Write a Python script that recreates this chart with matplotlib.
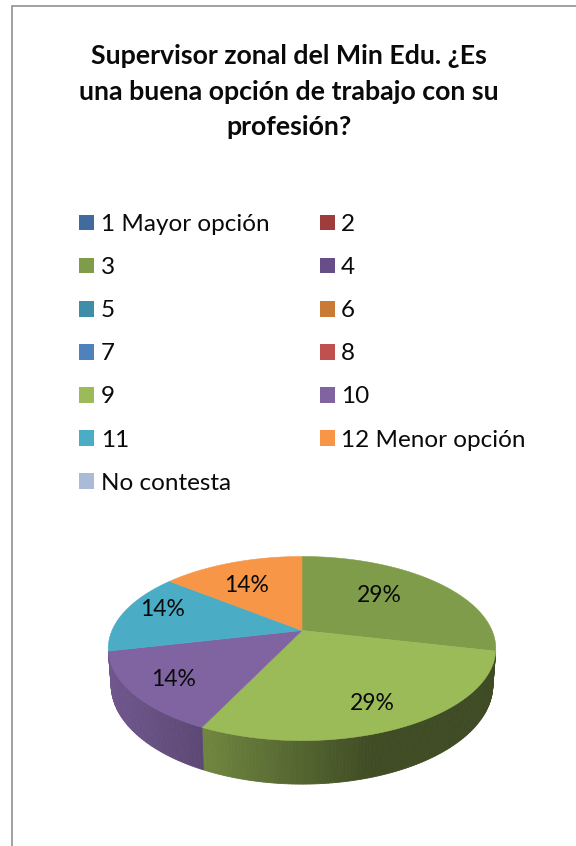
#!/usr/bin/python
# -*- coding: utf-8 -*-
import numpy as np
import matplotlib
matplotlib.use('Agg')
import matplotlib.pyplot as plt
from matplotlib.patches import Patch

categories = ['1 Mayor opción', '2', '3', '4', '5', '6', '7', '8', '9', '10', '11',
              '12 Menor opción', 'No contesta']
counts = [0, 0, 2, 0, 0, 0, 0, 0, 2, 1, 1, 1, 0]
colors = ['#416B9E', '#9E3D3B', '#7F9C4A', '#674E88', '#3D8EA6', '#C97A36', '#4F81BD',
          '#C0504D', '#9BBB59', '#8064A2', '#4BACC6', '#F79646', '#AABAD7']
title = 'Supervisor zonal del Min Edu. ¿Es\nuna buena opción de trabajo con su\nprofesión?'

plt.rcParams['font.family'] = ['Lato', 'DejaVu Sans']

# pixel coordinates make it easy to line things up with the screenshot
fig = plt.figure(figsize=(5.76, 8.46), dpi=100)
ax = fig.add_axes([0, 0, 1, 1])
ax.set_xlim(0, 576)
ax.set_ylim(846, 0)
ax.axis('off')

# frame of the chart, only left and top show
ax.plot([11.7, 11.7, 576], [846, 6.3, 6.3], color='#9a9a9a', lw=1.3, solid_joinstyle='miter')

ax.text(289, 91.5, title, ha='center', va='center', fontsize=19.3, fontweight='bold',
        color='#0a0a0a', linespacing=1.58)

# perspective of the pie: depth goes with cos(theta), theta clockwise from the top
cx, cy = 302, 630.5
a, b, k = 190, 88.5, 0.196
wall = 35


def project(theta, drop=0.0):
    w = 1 + k * np.cos(theta)
    shrink = 1 - 0.015 * (drop > 0)
    return cx + shrink * a * np.sin(theta) / w, cy - b * np.cos(theta) / w + drop / w


def darken(color, f):
    rgb = np.array(matplotlib.colors.to_rgb(color))
    return tuple(rgb * f)


fractions = np.array(counts, dtype=float) / sum(counts)
edges = np.concatenate([[0], np.cumsum(fractions)]) * 2 * np.pi

# side wall first, top faces go over it
for i in range(len(categories)):
    if counts[i] == 0:
        continue
    steps = np.linspace(edges[i], edges[i + 1], int(fractions[i] * 400) + 2)
    for t0, t1 in zip(steps[:-1], steps[1:]):
        if np.cos((t0 + t1) / 2) > -0.23:
            continue
        x0, y0 = project(t0)
        x1, y1 = project(t1)
        x2, y2 = project(t1, wall)
        x3, y3 = project(t0, wall)
        shade = np.interp((x0 + x1) / 2, [108, 203, 370, 497], [0.87, 0.72, 0.41, 0.40])
        base = colors[i]
        c = darken(base, shade)
        ax.fill([x0, x1, x2, x3], [y0, y1, y2, y3], color=c, lw=0.6)

for i in range(len(categories)):
    if counts[i] == 0:
        continue
    t = np.linspace(edges[i], edges[i + 1], 120)
    x, y = project(t)
    ax.fill(np.r_[cx, x], np.r_[cy, y], color=colors[i], lw=0.4)

# label spots, same order as the non zero slices
label_spots = [(379, 595), (372, 703), (174, 679), (163, 610), (247, 586)]
shown = [i for i in range(len(categories)) if counts[i] > 0]
for i, (lx, ly) in zip(shown, label_spots):
    ax.text(lx, ly, '%d%%' % round(fractions[i] * 100), ha='center', va='center',
            fontsize=16.5, color='#0a0a0a')

# legend fills by column so reorder to read across
order = [0, 2, 4, 6, 8, 10, 12, 1, 3, 5, 7, 9, 11]
handles = [Patch(facecolor=colors[i], edgecolor='none', label=categories[i]) for i in order]
ax.legend(handles=handles, ncol=2, loc='upper left', bbox_to_anchor=(79, 214),
          bbox_transform=ax.transData, frameon=False, fontsize=17.5, borderpad=0,
          borderaxespad=0, handlelength=0.62, handleheight=0.62, handletextpad=0.27,
          labelspacing=0.91, columnspacing=2.07, labelcolor='#0a0a0a')

fig.savefig('out.png', dpi=100)
